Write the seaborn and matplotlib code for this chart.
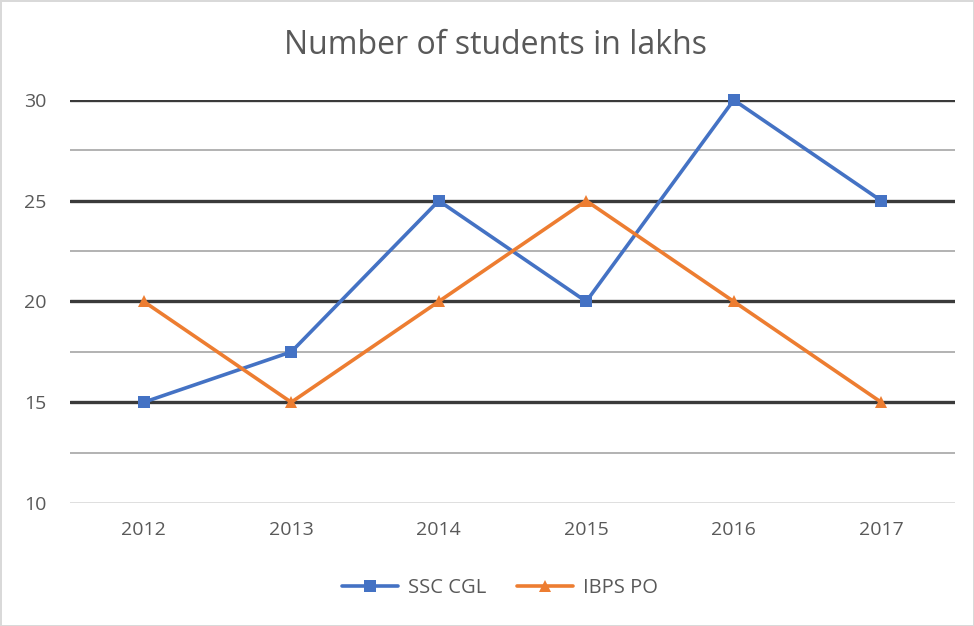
import numpy as np
import pandas as pd
import seaborn as sns
import matplotlib.pyplot as plt

years = [2012, 2013, 2014, 2015, 2016, 2017]
ssc_cgl = [15, 17.5, 25, 20, 30, 25]
ibps_po = [20, 15, 20, 25, 20, 15]
series_names = ['SSC CGL', 'IBPS PO']
y_ticks = [10, 15, 20, 25, 30]
y_minor = [12.5, 17.5, 22.5, 27.5]

df = pd.DataFrame({
    'year': years * 2,
    'value': ssc_cgl + ibps_po,
    'series': [series_names[0]] * len(years) + [series_names[1]] * len(years),
})

sns.set_style('white')
plt.rcParams['font.family'] = ['Open Sans', 'DejaVu Sans']

fig = plt.figure(figsize=(9.74, 6.26), dpi=100, edgecolor='#d9d9d9', linewidth=2)
ax = fig.add_axes([70 / 974, 1 - 503 / 626, 885 / 974, 403 / 626])

sns.lineplot(data=df, x='year', y='value', hue='series', style='series',
             markers=['s', '^'], dashes=False, markersize=9, linewidth=2.6,
             palette=['#4472c4', '#ed7d31'], markeredgewidth=0, ax=ax, zorder=3)
for line in ax.lines:
    line.set_clip_on(False)

ax.set_xlim(years[0] - 0.5, years[-1] + 0.5)
ax.set_ylim(y_ticks[0], y_ticks[-1])
ax.set_xticks(years)
ax.set_yticks(y_ticks)
ax.set_yticks(y_minor, minor=True)
ax.set_xlabel('')
ax.set_ylabel('')
ax.tick_params(axis='both', which='both', length=0, labelsize=14, colors='#595959')
ax.tick_params(axis='y', pad=17)
ax.tick_params(axis='x', pad=13)
ax.grid(True, axis='y', which='major', color='#3a3a3a', linewidth=2.4)
ax.grid(True, axis='y', which='minor', color='#a6a6a6', linewidth=1.2)
ax.yaxis.get_major_ticks()[0].gridline.set_color('#d9d9d9')
ax.yaxis.get_major_ticks()[0].gridline.set_linewidth(1.2)
for s in ax.spines.values():
    s.set_visible(False)

fig.text(495 / 974, 1 - 45 / 626, 'Number of students in lakhs', ha='center',
         va='center', fontsize=23, color='#595959')

handles, labels = ax.get_legend_handles_labels()
ax.legend(handles, labels, loc='center', bbox_to_anchor=(500 / 974, 1 - 588 / 626),
          bbox_transform=fig.transFigure, ncol=2, frameon=False, fontsize=14.5,
          handlelength=2.8, handletextpad=0.5, columnspacing=1.5, labelcolor='#595959')

fig.savefig('out.png', dpi=100, edgecolor=fig.get_edgecolor())
